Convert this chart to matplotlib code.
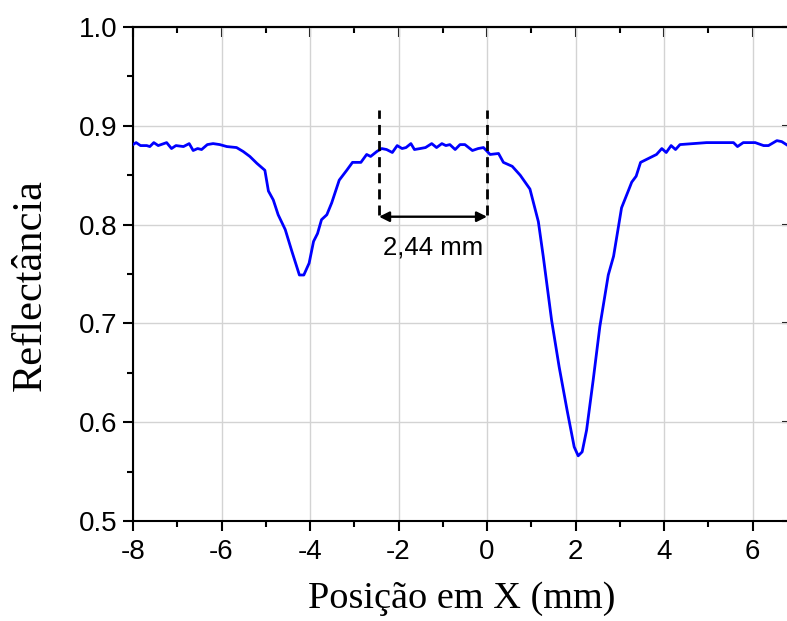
import numpy as np
import matplotlib.pyplot as plt

# posição (mm) e reflectância
pos_mm = [
    -8.00, -7.93, -7.83, -7.69, -7.62, -7.53, -7.43, -7.24, -7.13, -7.03,
    -6.86, -6.73, -6.64, -6.54, -6.45, -6.32, -6.19, -6.04, -5.88, -5.66,
    -5.51, -5.36, -5.20, -5.02, -4.94, -4.83, -4.72, -4.56, -4.41, -4.24,
    -4.14, -4.02, -3.92, -3.83, -3.74, -3.62, -3.51, -3.34, -3.17, -3.04,
    -2.85, -2.72, -2.63, -2.49, -2.38, -2.27, -2.14, -2.03, -1.92, -1.83,
    -1.72, -1.64, -1.51, -1.39, -1.25, -1.14, -1.02, -0.93, -0.84, -0.72,
    -0.61, -0.50, -0.33, -0.20, -0.08, 0.07, 0.26, 0.37, 0.57, 0.75,
    0.97, 1.16, 1.27, 1.46, 1.63, 1.81, 1.97, 2.06, 2.15, 2.25,
    2.40, 2.55, 2.74, 2.86, 3.04, 3.20, 3.27, 3.37, 3.47, 3.65,
    3.83, 3.95, 4.05, 4.16, 4.26, 4.36, 4.66, 4.96, 5.27, 5.57,
    5.66, 5.79, 6.06, 6.25, 6.36, 6.55, 6.66, 6.80,
]
refl = [
    0.881, 0.883, 0.880, 0.880, 0.879, 0.883, 0.880, 0.883, 0.877, 0.880,
    0.879, 0.882, 0.875, 0.877, 0.876, 0.881, 0.882, 0.881, 0.879, 0.878,
    0.874, 0.869, 0.862, 0.855, 0.834, 0.825, 0.810, 0.795, 0.773, 0.749,
    0.749, 0.761, 0.783, 0.791, 0.805, 0.810, 0.822, 0.845, 0.855, 0.863,
    0.863, 0.871, 0.869, 0.874, 0.877, 0.876, 0.873, 0.880, 0.877, 0.878,
    0.882, 0.876, 0.877, 0.878, 0.882, 0.878, 0.882, 0.880, 0.881, 0.876,
    0.881, 0.881, 0.875, 0.877, 0.878, 0.871, 0.872, 0.863, 0.859, 0.850,
    0.836, 0.803, 0.768, 0.703, 0.656, 0.612, 0.575, 0.566, 0.570, 0.592,
    0.643, 0.697, 0.749, 0.768, 0.817, 0.835, 0.843, 0.849, 0.863, 0.867,
    0.871, 0.877, 0.873, 0.880, 0.876, 0.881, 0.882, 0.883, 0.883, 0.883,
    0.879, 0.883, 0.883, 0.880, 0.880, 0.885, 0.884, 0.880,
]

# marcação da largura
gap_start = -2.44
gap_end = 0.0
gap_label = "2,44 mm"

xticks = np.arange(-8, 7, 2)
yticks = np.arange(0.5, 1.01, 0.1)

fig = plt.figure(figsize=(7.87, 6.21), dpi=100)
ax = fig.add_axes([0.169, 0.161, 0.835, 0.7955])

ax.plot(pos_mm, refl, color="#0000ff", lw=2.0, zorder=3)

# linhas tracejadas e seta
for xv in (gap_start, gap_end):
    ax.plot([xv, xv], [0.81, 0.916], color="black", ls=(0, (3.6, 2.2)), lw=2, zorder=4)
ax.annotate("", xy=(gap_start, 0.808), xytext=(gap_end, 0.808),
            arrowprops=dict(arrowstyle="<|-|>", color="black", lw=1.7,
                            mutation_scale=15, shrinkA=0, shrinkB=0))
ax.text((gap_start + gap_end) / 2, 0.777, gap_label, ha="center", va="center",
        fontsize=18.5, family="Liberation Sans")

ax.set_xlim(-8, 6.85)
ax.set_ylim(0.5, 1.0)
ax.set_xticks(xticks)
ax.set_xticks(np.arange(-7, 7, 2), minor=True)
ax.set_yticks(yticks)
ax.set_yticks(np.arange(0.55, 1.0, 0.1), minor=True)
ax.set_xticklabels([str(v) for v in xticks])
ax.set_yticklabels([f"{v:.1f}" for v in yticks])

ax.grid(True, which="major", color="#d3d3d3", lw=1.0, zorder=0)
ax.set_axisbelow(True)

ax.tick_params(axis="both", which="both", labelsize=20, width=1.5)
ax.tick_params(which="major", length=7)
ax.tick_params(which="minor", length=4)
ax.tick_params(axis="x", which="both", direction="out", pad=6)
ax.tick_params(axis="y", which="both", direction="out", pad=4)
for lab in ax.get_xticklabels() + ax.get_yticklabels():
    lab.set_family("Liberation Sans")

# ticks internos nos eixos superior e direito
ax_top = ax.secondary_xaxis("top")
ax_top.set_xticks(xticks)
ax_top.set_xticks(np.arange(-7, 7, 2), minor=True)
ax_top.tick_params(which="both", direction="in", labeltop=False, width=1.5)
ax_top.tick_params(which="major", length=7)
ax_top.tick_params(which="minor", length=4)
ax_top.spines["top"].set_linewidth(1.5)
ax_right = ax.secondary_yaxis("right")
ax_right.set_yticks(yticks)
ax_right.tick_params(direction="in", labelright=False, width=1.5, length=6)

for s in ax.spines.values():
    s.set_linewidth(1.5)

ax.set_xlabel("Posição em X (mm)", fontsize=27.5, family="Liberation Serif", labelpad=12)
ax.set_ylabel("Reflectância", fontsize=30.5, family="Liberation Serif")
ax.yaxis.set_label_coords(-0.127, 0.478)

fig.savefig("out.png", dpi=100)
